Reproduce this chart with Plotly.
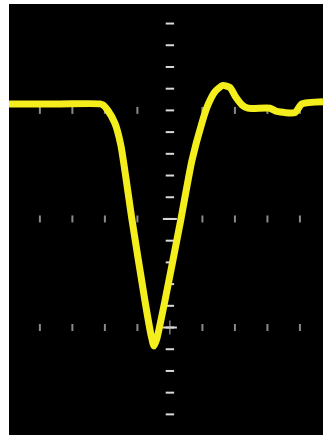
import plotly.graph_objects as go
import numpy as np

# trace, in divisions (x: time div, y: volts div)
t_div = [-4.95, -3.39, -2.15, -2.06, -1.91, -1.69, -1.51, -1.17, -0.77, -0.58,
         -0.49, -0.40, -0.15, 0.34, 0.68, 0.98, 1.17, 1.38, 1.63, 1.85,
         2.03, 2.22, 2.4, 3.08, 3.29, 3.85, 4.06, 4.71]
v_div = [1.06, 1.06, 1.06, 1.05, 1.0, 0.88, 0.68, 0.0, -0.75, -1.07,
         -1.17, -1.10, -0.75, 0.0, 0.54, 0.88, 1.05, 1.17, 1.23, 1.21,
         1.12, 1.05, 1.02, 1.02, 0.99, 0.98, 1.06, 1.08]

# graticule
x_range = [-4.95, 4.71]
y_range = [-1.99, 1.98]
minor_y = np.arange(-1.8, 1.81, 0.2)
major_x = np.arange(-4, 5, 1)
dot_rows = [1, 0, -1]

fig = go.Figure()

# center axis ticks
fig.add_trace(go.Scatter(
    x=[0] * len(minor_y), y=minor_y, mode='markers',
    marker=dict(symbol='line-ew', size=6, line=dict(width=2, color='#d8d8d8')),
    hoverinfo='skip'
))
fig.add_trace(go.Scatter(
    x=[0, 0], y=[0, -1], mode='markers',
    marker=dict(symbol='line-ew', size=10, line=dict(width=2, color='#d8d8d8')),
    hoverinfo='skip'
))
fig.add_trace(go.Scatter(
    x=[0], y=[-1], mode='markers',
    marker=dict(symbol='line-ns', size=10, line=dict(width=1, color='#bbbbbb')),
    hoverinfo='skip'
))

# dotted rows
gx = [x for r in dot_rows for x in major_x if x != 0]
gy = [r for r in dot_rows for x in major_x if x != 0]
fig.add_trace(go.Scatter(
    x=gx, y=gy, mode='markers',
    marker=dict(symbol='line-ns', size=5, line=dict(width=2, color='#8a8a8a')),
    hoverinfo='skip'
))

# signal
fig.add_trace(go.Scatter(
    x=t_div, y=v_div, mode='lines',
    line=dict(color='#f4ee1c', width=7, shape='spline', smoothing=0.6),
    hoverinfo='skip'
))

fig.update_layout(
    width=323, height=435,
    margin=dict(l=9, r=0, t=4, b=0),
    paper_bgcolor='white', plot_bgcolor='black',
    showlegend=False,
    xaxis=dict(range=x_range, visible=False, fixedrange=True),
    yaxis=dict(range=y_range, visible=False, fixedrange=True),
)

fig.write_html("out.html", config={'displayModeBar': False},
               post_script="document.body.style.margin='0';document.body.style.overflow='hidden';")
